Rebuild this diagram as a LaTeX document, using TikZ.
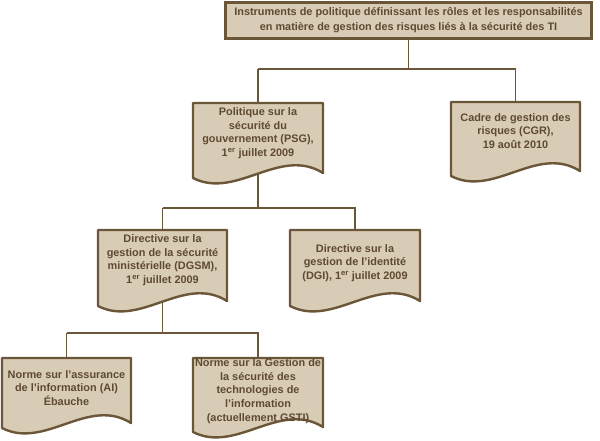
\documentclass[tikz,border=0pt]{standalone}
\usepackage{fontspec}
\setmainfont{Liberation Sans}
\definecolor{docfill}{HTML}{D9CCB6}
\definecolor{docline}{HTML}{6B5638}
\definecolor{doctext}{HTML}{5E4A31}
\pgfdeclarelayer{bg}
\pgfsetlayers{bg,main}
\tikzset{
  docbox/.style={inner sep=0pt, outer sep=0pt, draw=none},
  docshape/.style={fill=docfill, draw=docline, line width=2.4pt, line join=round},
  doclabel/.style={text=doctext, align=center, inner sep=0pt, font=\bfseries\fontsize{10.9}{13.6}\selectfont},
  topbox/.style={fill=docfill, draw=docline, line width=2.6pt, inner sep=0pt, text=doctext, align=center, font=\bfseries\fontsize{10.9}{15}\selectfont},
  link/.style={draw=docline, line width=1.2pt}
}
% name, x1, y1, x2, y2, text centre y, text
\newcommand\docnode[7]{%
  \node[docbox, minimum width={(#4-#2)*1pt}, minimum height={(#5-#3)*1pt}] (#1) at ({(#2+#4)/2},{(#3+#5)/2}) {};
  \path[docshape] ({#2},{#3}) -- ({#4},{#3}) -- ({#4},{#5-9})
     .. controls ({#2+(#4-#2)*2/3},{#5-36}) and ({#2+(#4-#2)/3},{#5+18}) .. ({#2},{#5-4}) -- cycle;
  \node[doclabel] at ({(#2+#4)/2},{#6}) {#7};
}
\begin{document}
\begin{tikzpicture}[x=1pt,y=-1pt]
\useasboundingbox (0,0) rectangle (600,441);
\node[topbox, minimum width=366pt, minimum height=36pt] (top) at (408.5,20.5)
  {Instruments de politique définissant les rôles et les responsabilités\\en matière de gestion des risques liés à la sécurité des TI};
\docnode{psg}{193}{103}{323}{182}{133}{Politique sur la\\sécurité du\\gouvernement (PSG),\\1\textsuperscript{er} juillet 2009}
\docnode{cgr}{451}{102}{580}{180}{131}{Cadre de gestion des\\risques (CGR),\\19 août 2010}
\docnode{dgsm}{98}{230}{227}{310}{260}{Directive sur la\\gestion de la sécurité\\ministérielle (DGSM),\\1\textsuperscript{er} juillet 2009}
\docnode{dgi}{290}{230}{420}{310}{263}{Directive sur la\\gestion de l’identité\\(DGI), 1\textsuperscript{er} juillet 2009}
\docnode{ai}{2}{358}{131}{432}{388}{Norme sur l’assurance\\de l’information (AI)\\Ébauche}
\docnode{gsti}{193}{358}{323}{436}{391}{Norme sur la Gestion de\\la sécurité des\\technologies de\\l’information\\(actuellement GSTI)}
\coordinate (bar1) at (0,69);
\coordinate (bar2) at (0,208);
\coordinate (bar3) at (0,333);
\begin{pgfonlayer}{bg}
\draw[link] (top.south) -- (top.south |- bar1);
\draw[link] (psg.north |- bar1) -| (cgr.north);
\draw[link] (psg.north |- bar1) -- (psg.north |- bar2);
\draw[link] (dgsm.north |- bar2) -| (dgi.north);
\draw[link] (dgsm.north |- bar2) -- (dgsm.north |- bar3);
\draw[link] (ai.north |- bar3) -| (gsti.north);
\draw[link] (ai.north |- bar3) -- (ai.north);
\end{pgfonlayer}
\end{tikzpicture}
\end{document}
